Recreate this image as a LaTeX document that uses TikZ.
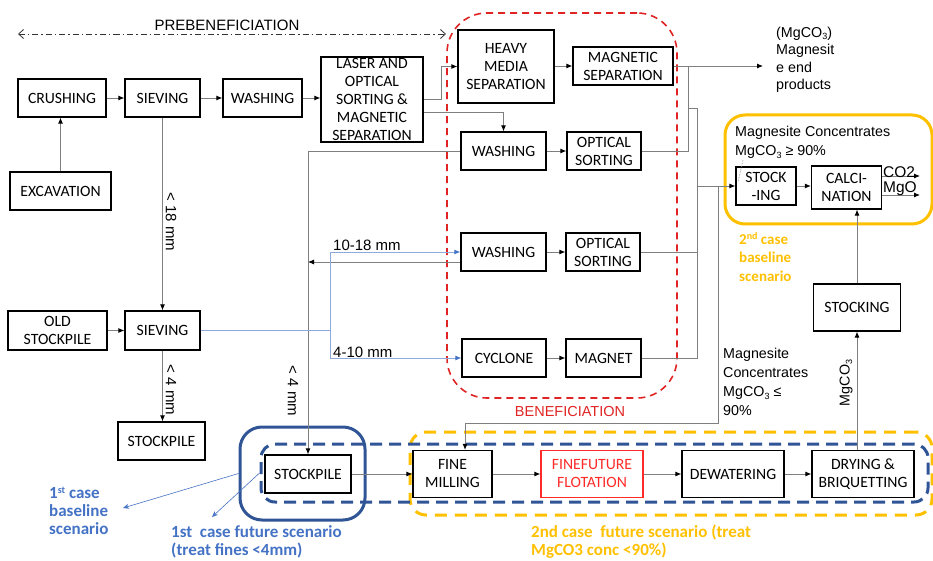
\documentclass[tikz,border=0pt]{standalone}
\usepackage{fontspec}
\setmainfont{Carlito}
\newfontfamily\arialf{Liberation Sans}
\usetikzlibrary{arrows.meta,calc}

\definecolor{linegray}{HTML}{7F7F7F}
\definecolor{benred}{HTML}{E02424}
\definecolor{flotred}{HTML}{FF2B2B}
\definecolor{caseyellow}{HTML}{FFC000}
\definecolor{darkblue}{HTML}{2F5597}
\definecolor{txtblue}{HTML}{4472C4}
\definecolor{connblue}{HTML}{8EA9DB}

\newcommand\boxfont{\fontsize{15.7}{18}\selectfont}
\newcommand\subthree{\raisebox{-0.35ex}{\fontsize{9}{9}\selectfont 3}}
\newcommand\supsmall[1]{\raisebox{0.3em}{\fontsize{10}{10}\selectfont #1}}

\begin{document}
\begin{tikzpicture}[x=1pt,y=-1pt,
  box/.style={draw=black, line width=1.2pt, fill=white, inner sep=0pt, align=center, font=\boxfont},
  conn/.style={draw=linegray, line width=0.9pt},
  arr/.style={conn, -{Latex[length=6pt,width=5pt,color=black]}},
  bconn/.style={draw=connblue, line width=0.9pt},
  barr/.style={bconn, -{Latex[length=6pt,width=5pt,color=txtblue]}},
  annot/.style={draw=txtblue, line width=0.6pt, -{Stealth[length=6pt,width=5pt]}},
  sans/.style={inner sep=0pt, font=\arialf\fontsize{14.3}{17.6}\selectfont},
  frame/.style={inner sep=0pt, fill=none},
]
\useasboundingbox (0,0) rectangle (933,561);

% ---------- scenario frames ----------
\node[frame, draw=benred, line width=1.6pt, dash pattern=on 7pt off 5pt,
      rounded corners=40pt, minimum width=230pt, minimum height=385pt] (benef) at (562,205.5) {};
\node[frame, draw=caseyellow, line width=3pt, rounded corners=20pt,
      minimum width=207pt, minimum height=109pt] (case2b) at (828.5,169.5) {};
\node[frame, draw=caseyellow, line width=3pt, dash pattern=on 12pt off 8pt,
      rounded corners=16pt, minimum width=522pt, minimum height=83pt] (case2f) at (671,473.5) {};
\node[frame, draw=darkblue, line width=3pt, dash pattern=on 12pt off 7pt,
      rounded corners=14pt, minimum width=667pt, minimum height=58pt] (case1f) at (594.5,473) {};
\node[frame, draw=darkblue, line width=3pt, rounded corners=22pt,
      minimum width=125pt, minimum height=93pt] (case1b) at (302.5,473.5) {};

% ---------- process boxes ----------
\node[box, minimum width=88pt, minimum height=38pt] (crush) at (62,98) {CRUSHING};
\node[box, minimum width=75pt, minimum height=38pt] (sieve1) at (162.5,98) {SIEVING};
\node[box, minimum width=79pt, minimum height=38pt] (wash1) at (262.5,98) {WASHING};
\node[box, minimum width=102pt, minimum height=85pt] (laser) at (372,99.5) {LASER AND\\OPTICAL\\SORTING \&\\MAGNETIC\\SEPARATION};
\node[box, minimum width=101pt, minimum height=38pt] (excav) at (60.5,191) {EXCAVATION};
\node[box, minimum width=96pt, minimum height=73pt] (hms) at (506,66.5) {HEAVY\\MEDIA\\SEPARATION};
\node[box, minimum width=100pt, minimum height=38pt] (magsep) at (623,66) {MAGNETIC\\SEPARATION};
\node[box, minimum width=85pt, minimum height=38pt] (wash2) at (503.5,151) {WASHING};
\node[box, minimum width=74pt, minimum height=38pt] (os1) at (604,151) {OPTICAL\\SORTING};
\node[box, minimum width=85pt, minimum height=38pt] (wash3) at (503.5,252) {WASHING};
\node[box, minimum width=74pt, minimum height=38pt] (os2) at (603,252) {OPTICAL\\SORTING};
\node[box, minimum width=84pt, minimum height=38pt] (cyc) at (504,358) {CYCLONE};
\node[box, minimum width=75pt, minimum height=38pt] (magnet) at (603.5,358) {MAGNET};
\node[box, minimum width=99pt, minimum height=39pt] (oldsp) at (57.5,330.5) {OLD\\STOCKPILE};
\node[box, minimum width=75pt, minimum height=39pt] (sieve2) at (162.5,330.5) {SIEVING};
\node[box, minimum width=87pt, minimum height=38pt] (sp1) at (161.5,441) {STOCKPILE};
\node[box, minimum width=86pt, minimum height=38pt] (sp2) at (308,474) {STOCKPILE};
\node[box, minimum width=79pt, minimum height=47pt] (fmill) at (452.5,474) {FINE\\MILLING};
\node[box, draw=flotred, text=flotred, minimum width=102pt, minimum height=47pt] (flot) at (592,474) {FINEFUTURE\\FLOTATION};
\node[box, minimum width=102pt, minimum height=47pt] (dewat) at (733,474) {DEWATERING};
\node[box, minimum width=102pt, minimum height=47pt] (dry) at (863,474) {DRYING \&\\BRIQUETTING};
\node[box, minimum width=87pt, minimum height=47pt] (stockr) at (857,307.5) {STOCKING};
\node[box, minimum width=60pt, minimum height=38pt] (stocking) at (766,186) {STOCK\\-ING};
\node[box, minimum width=70pt, minimum height=43pt] (calc) at (846.5,187.5) {CALCI-\\NATION};

% ---------- pre-beneficiation line ----------
\draw[arr] (crush) -- (sieve1);
\draw[arr] (sieve1) -- (wash1);
\draw[arr] (wash1.east) -- (wash1.east -| laser.west);
\draw[arr] (excav.north) -- (excav.north |- crush.south);
\draw[arr] (sieve1.south) -- (sieve1.south |- sieve2.north);
\draw[arr] (oldsp) -- (sieve2);
\draw[arr] (sieve2.south) -- (sieve2.south |- sp1.north);

% ---------- beneficiation feeds ----------
\draw[arr] (laser.east) -- ++(18,0) |- (hms.west);
\draw[arr] ($(laser.east)+(0,12.5)$) -| (wash2.north);
\draw[arr] (hms.east |- magsep.west) -- (magsep.west);
\draw[arr] (wash2) -- (os1);
\draw[arr] (wash3) -- (os2);
\draw[arr] (cyc) -- (magnet);
\draw[arr] (wash2.west) -| (sp2.north);
\draw[arr] ($(wash3.west)+(0,10)$) -- ($(sp2.north |- wash3.west)+(0,10)$);

% size fractions from the old stockpile
\coordinate (split) at (330,330.5);
\draw[bconn] (sieve2.east) -- (split);
\draw[barr] (split) |- (wash3.west);
\draw[barr] (split) |- (cyc.west);

% ---------- concentrate collection ----------
\coordinate (c1) at (688,66);
\coordinate (endtip) at (763,66);
\draw[arr] (magsep.east) -- (endtip);
\draw[conn] (os1.east) -| (c1);
\coordinate (c2) at (688,108);
\coordinate (c3) at (697,108);
\draw[conn] (c2) -- (c3) |- (magnet.east);
\draw[conn] (os2.east) -- (os2.east -| c3);
\draw[arr] (c3 |- stocking.west) -- (stocking.west);
\coordinate (c4) at (718,186);
\coordinate (c5) at (718,423);
\draw[arr] (c4) -- (c5) -| ($(fmill.north)+(12.5,0)$);

% ---------- calcination ----------
\draw[arr] (stocking.east) -- (stocking.east -| calc.west);
\draw[arr] (stockr.north) -- (stockr.north |- calc.south);
\draw[arr] (stockr.south |- dry.north) -- (stockr.south);
\coordinate (co2tip) at (920,176);
\coordinate (mgotip) at (920,195);
\draw[arr] (calc.east |- co2tip) -- (co2tip);
\draw[arr] (calc.east |- mgotip) -- (mgotip);
\draw[linegray, densely dotted, line width=0.6pt] (743,160) -- (738,182);

% ---------- fines line ----------
\draw[arr] (sp2) -- (fmill);
\draw[arr] (fmill) -- (flot);
\draw[arr] (flot) -- (dewat);
\draw[arr] (dewat) -- (dry);

% ---------- scenario pointers ----------
\coordinate (t1) at (123,508);
\coordinate (t2) at (212,517);
\draw[annot] (case1b.west) -- (t1);
\draw[annot] (case1f.west) -- (t2);

% ---------- labels ----------
\coordinate (pbl) at (18,34);
\coordinate (pbr) at (446,34);
\draw[black!80, line width=0.8pt, dash pattern=on 6pt off 3pt on 1.5pt off 3pt,
      {Straight Barb[length=5pt,width=9pt]}-{Straight Barb[length=5pt,width=9pt]}] (pbl) -- (pbr);
\node[sans, font=\arialf\fontsize{15}{18}\selectfont] (pbtxt) at (227,25) {PREBENEFICIATION};
\node[sans, text=benred, font=\arialf\fontsize{14.5}{18}\selectfont] (bentxt) at (570,412) {BENEFICIATION};

\node[sans, anchor=north west, align=left] (endp) at (776,26.5) {(MgCO\subthree)\\Magnesit\\e end\\products};
\node[sans, anchor=north west, align=left, font=\arialf\fontsize{14.3}{18.5}\selectfont] (hiconc) at (735,126.4) {Magnesite Concentrates\\MgCO\subthree{} ≥ 90\%};
\node[sans, anchor=north west, align=left, font=\arialf\fontsize{14.3}{19}\selectfont] (loconc) at (723,347.8) {Magnesite\\Concentrates\\MgCO\subthree{} ≤\\90\%};
\node[sans, anchor=base west, font=\arialf\fontsize{15.5}{18}\selectfont] (co2) at (883,178) {CO2};
\node[sans, anchor=base west, font=\arialf\fontsize{15.5}{18}\selectfont] (mgo) at (883,193) {MgO};
\node[sans, rotate=90] (mgco3) at (846,383) {MgCO\subthree};

\node[sans, anchor=south west, font=\arialf\fontsize{15}{18}\selectfont] (l1018) at (333,251) {10-18 mm};
\node[sans, anchor=south west, font=\arialf\fontsize{15}{18}\selectfont] (l410) at (333,357.5) {4-10 mm};
\node[sans, rotate=-90, font=\arialf\fontsize{15}{18}\selectfont] (l18) at (171,222) {< 18 mm};
\node[sans, rotate=-90, font=\arialf\fontsize{15}{18}\selectfont] (l4a) at (171,390) {< 4 mm};
\node[sans, rotate=-90, font=\arialf\fontsize{15}{18}\selectfont] (l4b) at (293,391) {< 4 mm};

\node[inner sep=0pt, anchor=north west, align=left, text=caseyellow,
      font=\bfseries\fontsize{15}{18.5}\selectfont] (c2btxt) at (739,232.5) {2\supsmall{nd} case\\baseline\\scenario};
\node[inner sep=0pt, anchor=north west, align=left, text=txtblue,
      font=\bfseries\fontsize{17}{18}\selectfont] (c1btxt) at (49,486.5) {1\supsmall{st} case\\baseline\\scenario};
\node[inner sep=0pt, anchor=north west, align=left, text=txtblue,
      font=\bfseries\fontsize{17}{18}\selectfont] (c1ftxt) at (171,525) {1st\ \ case future scenario\\(treat fines <4mm)};
\node[inner sep=0pt, anchor=north west, align=left, text=caseyellow,
      font=\bfseries\fontsize{17}{18}\selectfont] (c2ftxt) at (531,525) {2nd case\ \ future scenario (treat\\MgCO3 conc <90\%)};
\end{tikzpicture}
\end{document}
